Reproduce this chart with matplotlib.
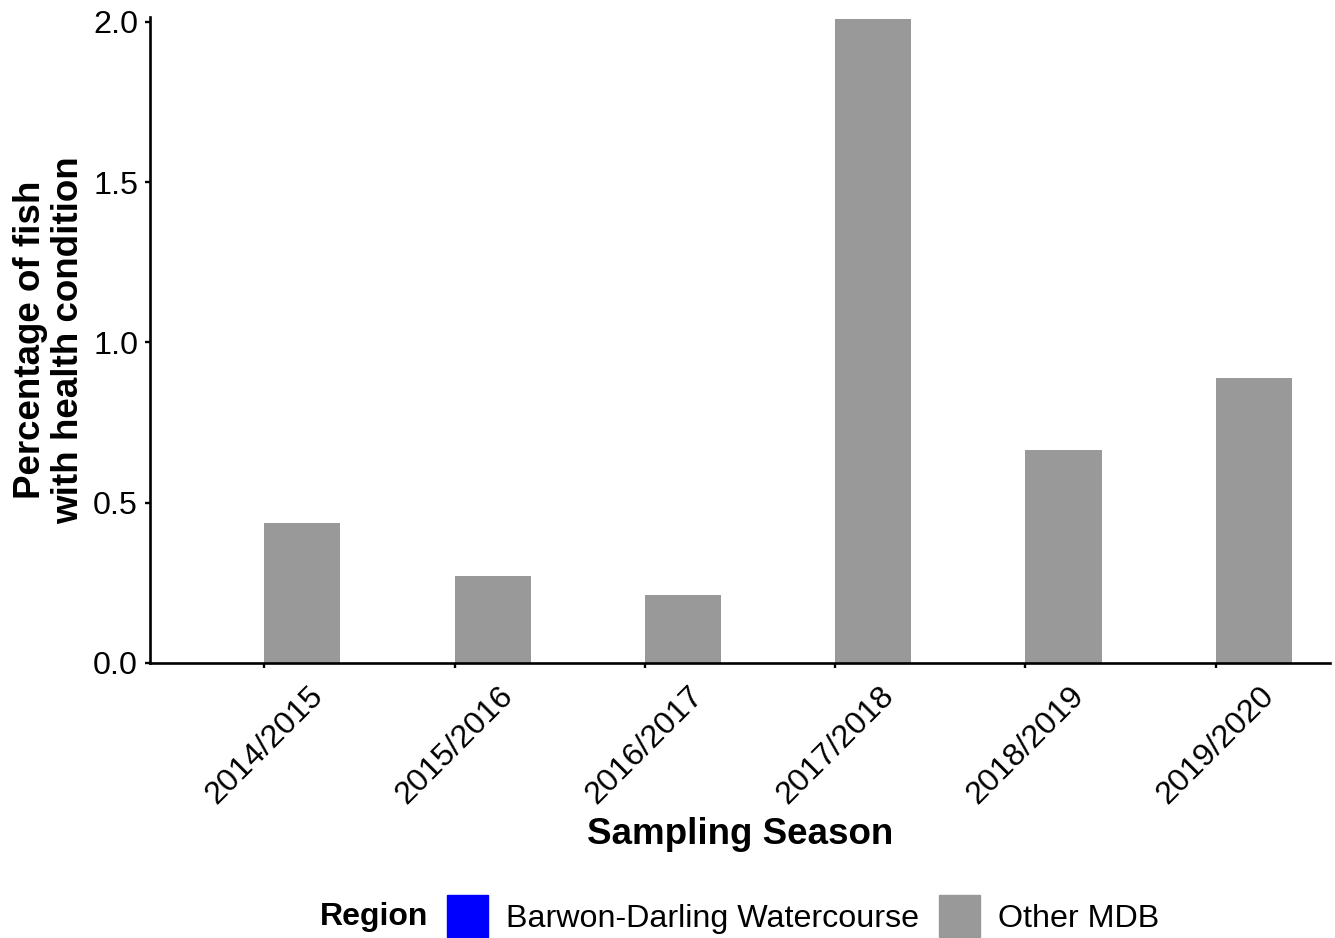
import matplotlib.pyplot as plt
import matplotlib.patches as mpatches
import numpy as np

plt.rcParams['font.family'] = ['Liberation Sans', 'DejaVu Sans']

# ---- data ----
seasons = ['2014/2015', '2015/2016', '2016/2017', '2017/2018', '2018/2019', '2019/2020']
barwon_darling = [0, 0, 0, 0, 0, 0]
other_mdb = [0.437, 0.271, 0.212, 2.009, 0.664, 0.890]
regions = ['Barwon-Darling Watercourse', 'Other MDB']
region_colors = ['#0000FF', '#999999']

fig = plt.figure(figsize=(13.35, 9.38), dpi=100)
ax = fig.add_axes([150/1335, 1-663/938, 1180/1335, (663-17)/938])

x = np.arange(len(seasons))
w = 0.4
ax.bar(x - w/2, barwon_darling, width=w, color=region_colors[0], label=regions[0])
ax.bar(x + w/2, other_mdb, width=w, color=region_colors[1], label=regions[1])

ax.set_xlim(-0.6, len(seasons) - 0.4)
ax.set_ylim(0, 2.0156)
ax.set_yticks([0, 0.5, 1.0, 1.5, 2.0])
ax.set_yticklabels(['0.0', '0.5', '1.0', '1.5', '2.0'])
ax.set_xticks(x)
ax.set_xticklabels(seasons, rotation=45, ha='center', va='top')

for s in ['top', 'right']:
    ax.spines[s].set_visible(False)
for s in ['left', 'bottom']:
    ax.spines[s].set_linewidth(1.9)
ax.tick_params(axis='both', length=3.6, width=1.7, labelsize=23.2, colors='black')
ax.tick_params(axis='y', pad=5)
ax.tick_params(axis='x', pad=9)

ax.set_xlabel('Sampling Season', fontsize=26.5, fontweight='bold', labelpad=5)
ax.set_ylabel('Percentage of fish\nwith health condition', fontsize=26.5,
              fontweight='bold', linespacing=1.1, labelpad=5)

# legend along the bottom
handles = [mpatches.Patch(color=c, label=r) for c, r in zip(region_colors, regions)]
fig.legend(handles=handles, loc='center', bbox_to_anchor=(803/1335, 1-916/938),
           ncol=2, frameon=False, fontsize=23.2, handlelength=1.3, handleheight=1.6,
           handletextpad=0.55, columnspacing=0.6, borderpad=0)
fig.text(320/1335, 1-917/938, 'Region', fontsize=23, fontweight='bold',
         ha='left', va='center')

fig.savefig('out.png', dpi=100)
